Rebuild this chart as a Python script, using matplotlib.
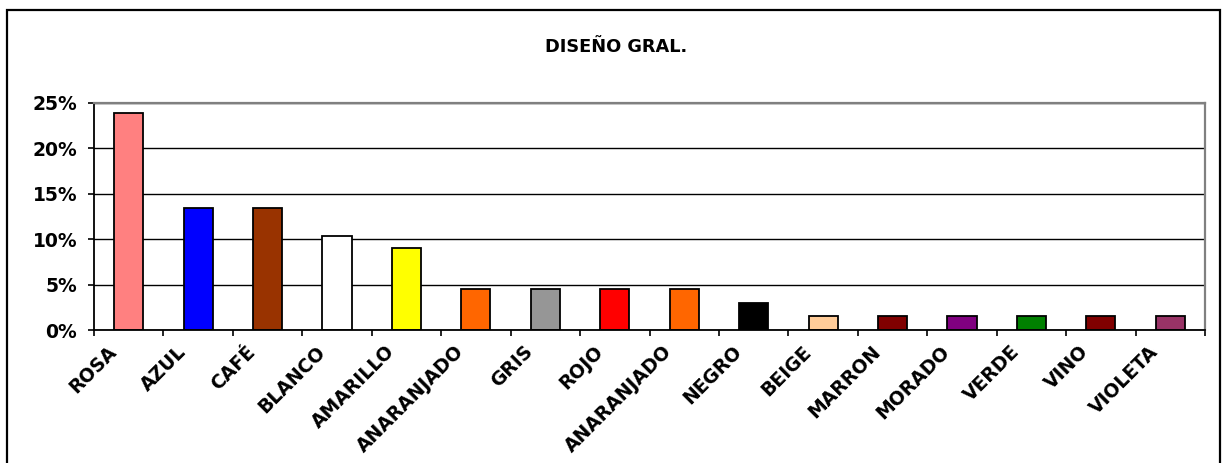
import matplotlib
matplotlib.use("Agg")
import matplotlib.pyplot as plt
from matplotlib.patches import Rectangle
from matplotlib.ticker import PercentFormatter, FixedLocator
from matplotlib.transforms import ScaledTranslation, Bbox, TransformedBbox

# Colour preference shares (% of answers)
categories = ["ROSA", "AZUL", "CAFÉ", "BLANCO", "AMARILLO", "ANARANJADO",
              "GRIS", "ROJO", "ANARANJADO", "NEGRO", "BEIGE", "MARRON",
              "MORADO", "VERDE", "VINO", "VIOLETA"]
shares = [23.9, 13.4, 13.4, 10.4, 9.0, 4.5, 4.5, 4.5, 4.5, 3.0,
          1.5, 1.5, 1.5, 1.5, 1.5, 1.5]
bar_colors = ["#FF8080", "#0000FF", "#993300", "#FFFFFF", "#FFFF00", "#FF6600",
              "#969696", "#FF0000", "#FF6600", "#000000", "#FFCC99", "#800000",
              "#800080", "#008000", "#800000", "#993366"]
y_ticks = [0, 5, 10, 15, 20, 25]
title = "DISEÑO GRAL."

plt.rcParams["font.family"] = ["DejaVu Sans"]
plt.rcParams["font.weight"] = "bold"

W, H, DPI = 1222, 463, 100
fig = plt.figure(figsize=(W / DPI, H / DPI), dpi=DPI)
fig.patch.set_facecolor("white")

# axes placed in pixel terms
left, right, top, bottom = 94, 1205, 103, 330
ax = fig.add_axes([left / W, 1 - bottom / H, (right - left) / W, (bottom - top) / H])

x = list(range(len(categories)))
ax.bar(x, shares, width=0.42, color=bar_colors, edgecolor="black",
       linewidth=1.3, zorder=3)

ax.set_xlim(-0.5, len(categories) - 0.5)
ax.set_ylim(0, 25)

# horizontal gridlines
ax.set_yticks(y_ticks)
ax.yaxis.set_major_formatter(PercentFormatter(xmax=100, decimals=0))
ax.grid(axis="y", color="black", linewidth=1.0, zorder=0)
ax.grid(axis="x", visible=False)

for s in ["left", "bottom"]:
    ax.spines[s].set_color("black")
    ax.spines[s].set_linewidth(1.3)
for s in ["top", "right"]:
    ax.spines[s].set_color("#808080")
    ax.spines[s].set_linewidth(1.6)
ax.spines["bottom"].set_zorder(4)

ax.tick_params(axis="y", direction="out", length=4.5, width=1.2,
               pad=7.5, labelsize=13.5, colors="black")

# tick marks at category boundaries, labels at category centres
ax.xaxis.set_major_locator(FixedLocator([i - 0.5 for i in range(len(categories) + 1)]))
ax.tick_params(axis="x", which="major", direction="out", length=4.5,
               width=1.2, labelbottom=False)
ax.set_xticks(x, labels=categories, minor=True)
ax.tick_params(axis="x", which="minor", length=0, pad=13.5, labelsize=13.5)

clip = TransformedBbox(Bbox([[-0.2, -3.0], [1.2, -0.05]]), ax.transAxes)
shift = ScaledTranslation(-15 / DPI, 0, fig.dpi_scale_trans)
for lbl in ax.get_xticklabels(minor=True):
    lbl.set_rotation(45)
    lbl.set_rotation_mode("anchor")
    lbl.set_ha("right")
    lbl.set_va("center")
    lbl.set_fontweight("bold")
    lbl.set_transform(lbl.get_transform() + shift)
    lbl.set_clip_box(clip)
    lbl.set_clip_on(True)

for lbl in ax.get_yticklabels():
    lbl.set_fontweight("bold")

fig.text(616 / W, 1 - 47 / H, title, ha="center", va="center",
         fontsize=12.8, fontweight="bold", color="black")

# outer chart frame
frame = Rectangle((7 / W, -0.05), (1220 - 7) / W, 1.05 - 10 / H,
                  transform=fig.transFigure, fill=False,
                  edgecolor="black", linewidth=1.6)
fig.patches.append(frame)

fig.savefig("out.png", dpi=DPI, facecolor="white")
